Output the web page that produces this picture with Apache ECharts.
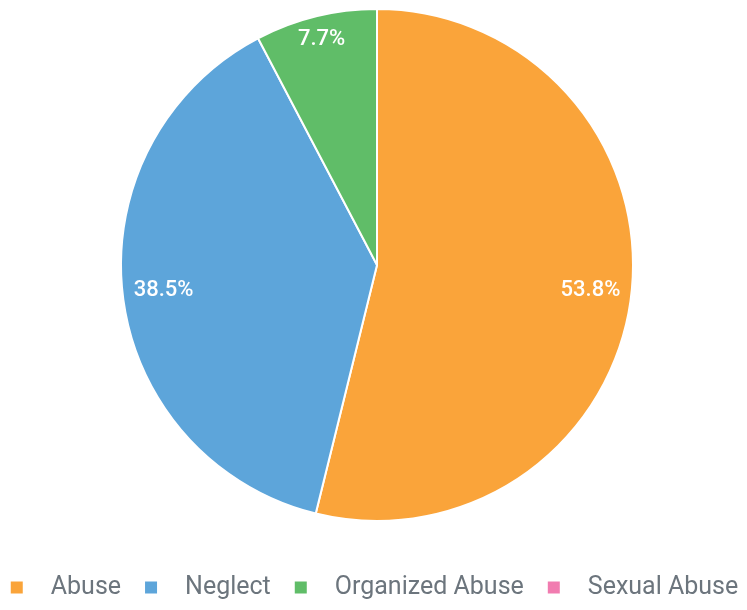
<!DOCTYPE html>
<html>
<head>
<meta charset="utf-8">
<script src="https://cdn.jsdelivr.net/npm/echarts@6/dist/echarts.min.js"></script>
<style>
  html, body { margin: 0; padding: 0; background: #fff; }
  #main { width: 747px; height: 610px; }
</style>
</head>
<body>
<div id="main"></div>
<script>
// 数据
var categories = ['Abuse', 'Neglect', 'Organized Abuse', 'Sexual Abuse'];
var counts = [7, 5, 1, 0];
var colors = ['#FAA43A', '#5DA5DA', '#60BD68', '#F17CB0'];

var total = counts.reduce(function (a, b) { return a + b; }, 0);
var pieData = categories.map(function (name, i) {
  return { name: name, value: counts[i], itemStyle: { color: colors[i] } };
});

var myChart = echarts.init(document.getElementById('main'));
var option = {
  animation: false,
  legend: {
    bottom: 10,
    left: 'center',
    padding: 0,
    itemWidth: 14,
    itemHeight: 14,
    itemGap: 22,
    icon: 'rect',
    data: categories,
    textStyle: {
      fontFamily: 'Roboto',
      fontSize: 25,
      color: '#6c757d',
      padding: [0, 0, 0, 22]
    }
  },
  series: [
    {
      // 饼图本体
      type: 'pie',
      center: [377, 265],
      radius: 256,
      startAngle: 90,
      clockwise: true,
      avoidLabelOverlap: false,
      itemStyle: { borderColor: '#fff', borderWidth: 2 },
      label: { show: false },
      labelLine: { show: false },
      emphasis: { disabled: true },
      data: pieData
    },
    {
      // 透明外环, 只用来放百分比标签
      type: 'pie',
      center: [377, 265],
      radius: [168, 256],
      startAngle: 90,
      silent: true,
      avoidLabelOverlap: false,
      itemStyle: { color: 'rgba(0,0,0,0)' },
      legendHoverLink: false,
      label: {
        show: true,
        position: 'inside',
        fontFamily: 'Roboto',
        fontSize: 22,
        fontWeight: 500,
        color: '#fff',
        formatter: function (p) {
          if (!p.value) return '';
          return (p.value / total * 100).toFixed(1) + '%';
        }
      },
      labelLayout: function (p) {
        if (p.dataIndex === 2) return { dy: -17, dx: -4 };
        return {};
      },
      labelLine: { show: false },
      data: categories.map(function (name, i) {
        return { name: name + ' ', value: counts[i] };
      })
    }
  ]
};
myChart.setOption(option);
</script>
</body>
</html>
